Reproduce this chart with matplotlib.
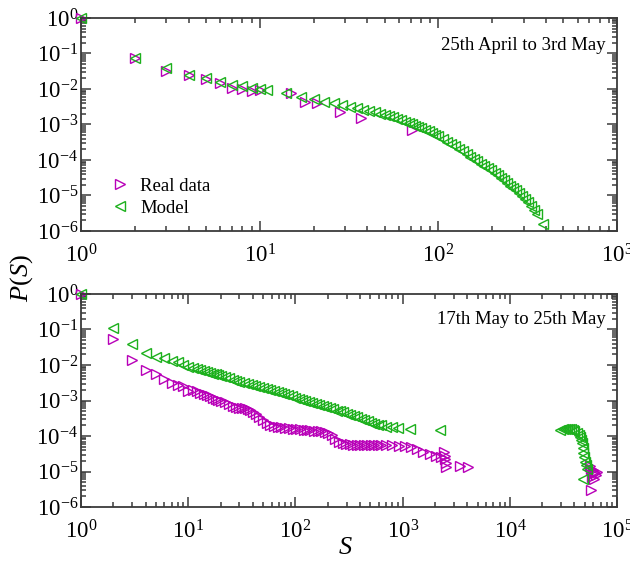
import numpy as np
import matplotlib
matplotlib.use("Agg")
import matplotlib.pyplot as plt
from matplotlib.ticker import LogLocator, NullFormatter

plt.rcParams['font.family'] = ['Liberation Serif', 'DejaVu Serif']
plt.rcParams['mathtext.fontset'] = 'custom'
plt.rcParams['mathtext.rm'] = 'Liberation Serif'
plt.rcParams['mathtext.it'] = 'Liberation Serif:italic'

# ---- top panel: 25th April to 3rd May ----
top_real_S = [1, 2, 3, 4, 5, 6, 7, 8, 9, 10, 15, 18, 21, 28, 37, 71]
top_real_P = [0.98, 0.076, 0.032, 0.025, 0.019, 0.0145, 0.011, 0.0098, 0.009, 0.0093,
              0.0076, 0.0044, 0.0041, 0.0022, 0.0015, 0.0007]

top_model_S = [1, 2, 3, 4, 5, 6, 7, 8, 9, 10, 11, 14, 17, 20, 23, 26, 29, 32, 35, 38,
               41, 44, 47, 50, 53, 56, 59, 62, 65, 68, 71, 74, 77, 80, 84, 88, 92, 96,
               100, 106, 112, 118, 124, 130, 137, 144, 151, 158, 165, 173, 181, 189,
               197, 206, 215, 224, 233, 243, 253, 263, 273, 284, 295, 306, 318, 330,
               342, 355, 383]
top_model_P = [1.0, 0.076, 0.038, 0.025, 0.021, 0.016, 0.013, 0.012, 0.011, 0.0102,
               0.0093, 0.0076, 0.0060, 0.0051, 0.0044, 0.0039, 0.0035, 0.0032, 0.0029,
               0.0026, 0.0024, 0.0022, 0.0020, 0.0018, 0.0017, 0.0016, 0.0014, 0.0013,
               0.0012, 0.0011, 0.00105, 0.00093, 0.00085, 0.00079, 0.00072, 0.00065,
               0.00058, 0.00052, 0.00046, 0.00039, 0.00033, 0.00028, 0.00024, 0.00021,
               0.00018, 0.00015, 0.00012, 0.000105, 0.000091, 0.000078, 0.000068,
               0.000059, 0.000051, 0.000044, 0.000037, 0.000032, 0.000027, 0.000023,
               0.000019, 0.000016, 0.000014, 0.000012, 9.8e-6, 8.2e-6, 6.6e-6, 5.2e-6,
               4.0e-6, 3.0e-6, 1.6e-6]

# ---- bottom panel: 17th May to 25th May ----
bot_real_S = [1, 2, 3, 4, 5, 6, 7, 8, 9, 10, 11, 12, 13, 14, 15, 16, 17, 18, 19, 20,
              22, 24, 26, 28, 30, 32, 34, 36, 38, 40, 43, 46, 50, 54, 58, 63, 68, 74,
              80, 87, 94, 102, 110, 119, 128, 138, 149, 161, 174, 188, 203, 219, 236,
              255, 275, 297, 320, 345, 372, 401, 433, 467, 504, 544, 587, 633, 700,
              800, 920, 1050, 1200, 1370, 1560, 1780, 2030, 2300, 2450, 2480, 2500,
              2520, 2550, 3400, 4100,
              56000, 57500, 59000, 60500, 62000, 63500, 64500, 58000, 61000, 57000]
bot_real_P = [1.0, 0.053, 0.014, 0.0072, 0.0055, 0.004, 0.0032, 0.0027, 0.0025, 0.0019,
              2.0e-3, 1.8e-3, 1.65e-3, 1.5e-3, 1.4e-3, 1.3e-3, 1.2e-3, 1.12e-3, 1.05e-3,
              1.0e-3, 8.8e-4, 7.8e-4, 7.0e-4, 6.5e-4, 6.2e-4, 6.2e-4, 6.1e-4, 5.9e-4,
              5.3e-4, 4.8e-4, 4.2e-4, 3.4e-4, 2.8e-4, 2.4e-4, 2.1e-4, 1.9e-4, 1.8e-4,
              1.75e-4, 1.7e-4, 1.65e-4, 1.6e-4, 1.6e-4, 1.55e-4, 1.5e-4, 1.5e-4,
              1.45e-4, 1.4e-4, 1.4e-4, 1.35e-4, 1.3e-4, 1.2e-4, 1.05e-4, 8.5e-5, 6.8e-5,
              6.2e-5, 6.0e-5, 5.8e-5, 5.7e-5, 5.6e-5, 5.6e-5, 5.6e-5, 5.6e-5, 5.6e-5,
              5.5e-5, 5.5e-5, 5.5e-5, 5.5e-5, 5.5e-5, 5.4e-5, 5.2e-5, 4.9e-5, 4.2e-5,
              3.6e-5, 3.1e-5, 2.7e-5, 2.5e-5, 3.5e-5, 2.8e-5, 2.2e-5, 1.7e-5, 1.3e-5,
              1.4e-5, 1.35e-5,
              1.4e-5, 1.2e-5, 1.1e-5, 1.0e-5, 9e-6, 8e-6, 1.0e-5, 7e-6, 6e-6, 3e-6]

bot_model_S = [1, 2, 3, 4, 5, 6, 7, 8, 9, 10, 11, 12, 13, 14, 15, 16, 17, 18, 19, 20,
               22, 24, 26, 28, 30, 33, 36, 39, 42, 46, 50, 54, 58, 63, 68, 73, 79, 85,
               92, 99, 107, 115, 124, 134, 144, 155, 167, 180, 194, 209, 225, 242, 260,
               280, 302, 325, 350, 377, 406, 437, 470, 506, 545, 587, 632, 700, 790,
               900, 1180, 2250,
               29400, 31000, 32500, 34000, 35500, 37000, 38500, 40000, 42000, 44000,
               45200, 46000, 46900, 47700, 48500, 49300, 50200, 51000, 52000, 48500]
bot_model_P = [1.0, 0.108, 0.038, 0.022, 0.017, 0.0155, 0.0129, 0.012, 0.010, 0.009,
               8.3e-3, 7.8e-3, 7.2e-3, 6.8e-3, 6.3e-3, 6.0e-3, 5.6e-3, 5.4e-3, 5.1e-3,
               4.9e-3, 4.6e-3, 4.2e-3, 3.9e-3, 3.6e-3, 3.4e-3, 3.2e-3, 3.0e-3, 2.75e-3,
               2.6e-3, 2.4e-3, 2.2e-3, 2.1e-3, 1.95e-3, 1.8e-3, 1.7e-3, 1.6e-3, 1.5e-3,
               1.4e-3, 1.3e-3, 1.2e-3, 1.12e-3, 1.05e-3, 9.8e-4, 9.1e-4, 8.5e-4, 7.9e-4,
               7.4e-4, 6.9e-4, 6.5e-4, 6.0e-4, 5.6e-4, 5.2e-4, 4.9e-4, 4.6e-4, 4.3e-4,
               4.0e-4, 3.6e-4, 3.4e-4, 3.1e-4, 2.8e-4, 2.6e-4, 2.4e-4, 2.2e-4, 2.1e-4,
               2.0e-4, 1.8e-4, 1.75e-4, 1.65e-4, 1.6e-4, 1.5e-4,
               1.5e-4, 1.55e-4, 1.6e-4, 1.6e-4, 1.6e-4, 1.55e-4, 1.5e-4, 1.4e-4, 1.25e-4,
               1.05e-4, 9.5e-5, 7.8e-5, 6.2e-5, 4.6e-5, 3.3e-5, 2.5e-5, 1.9e-5, 1.5e-5,
               1.2e-5, 6e-6]

real_color = '#b800b8'
model_color = '#1cb01c'
axis_color = '#3a3a3a'

fig = plt.figure(figsize=(6.3, 5.67), dpi=100)
ax1 = fig.add_axes([0.1286, 0.5926, 0.851, 0.3757])
ax2 = fig.add_axes([0.1286, 0.1058, 0.851, 0.3757])

def style_axis(ax, xmax):
    ax.set_xscale('log')
    ax.set_yscale('log')
    ax.set_xlim(1, xmax)
    ax.set_ylim(1e-6, 1)
    ax.xaxis.set_major_locator(LogLocator(base=10, numticks=20))
    ax.xaxis.set_minor_locator(LogLocator(base=10, subs=np.arange(2, 10), numticks=50))
    ax.yaxis.set_major_locator(LogLocator(base=10, numticks=20))
    ax.yaxis.set_minor_locator(LogLocator(base=10, subs=np.arange(2, 10), numticks=50))
    ax.xaxis.set_minor_formatter(NullFormatter())
    ax.yaxis.set_minor_formatter(NullFormatter())
    ax.tick_params(which='both', direction='in', top=True, right=True, color=axis_color,
                   width=1.1)
    ax.tick_params(which='major', length=7)
    ax.tick_params(which='minor', length=3.5)
    ax.tick_params(axis='x', which='major', labelsize=16.5, pad=9.5)
    ax.tick_params(axis='y', which='major', labelsize=16.5, pad=2)
    for sp in ax.spines.values():
        sp.set_color(axis_color)
        sp.set_linewidth(1.3)

style_axis(ax1, 1e3)
style_axis(ax2, 1e5)

mk = dict(linestyle='none', markersize=7.5, markerfacecolor='none', markeredgewidth=1.0,
          clip_on=False)

ax1.plot(top_real_S, top_real_P, marker='>', color=real_color, label='Real data', **mk)
ax1.plot(top_model_S, top_model_P, marker='<', color=model_color, label='Model', **mk)
ax2.plot(bot_real_S, bot_real_P, marker='>', color=real_color, **mk)
ax2.plot(bot_model_S, bot_model_P, marker='<', color=model_color, **mk)

ax1.legend(loc='lower left', bbox_to_anchor=(0.03, 0.005), frameon=False, fontsize=13.5,
           handlelength=1.0, handletextpad=0.6, labelspacing=0.25, borderpad=0.2)

ax1.text(0.978, 0.873, '25th April to 3rd May', transform=ax1.transAxes,
         ha='right', va='center', fontsize=13.5)
ax2.text(0.978, 0.878, '17th May to 25th May', transform=ax2.transAxes,
         ha='right', va='center', fontsize=13.5)

fig.text(0.035, 0.51, '$P(S)$', rotation=90, ha='center', va='center', fontsize=19)
fig.text(0.548, 0.034, '$S$', ha='center', va='center', fontsize=19)

plt.savefig('out.png', dpi=100)
